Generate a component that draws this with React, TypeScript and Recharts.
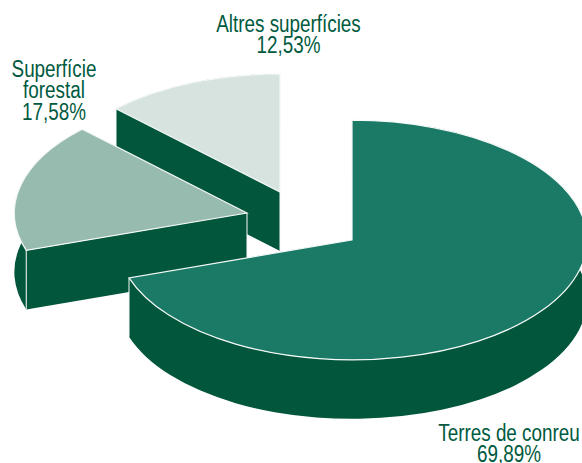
import { Pie, PieChart } from "recharts";

const names = ["Altres superfícies", "Superfície forestal", "Terres de conreu"];
const shares = [12.53, 17.58, 69.89];
const labelLines = [
  ["Altres superfícies", "12,53%"],
  ["Superfície", "forestal", "17,58%"],
  ["Terres de conreu", "69,89%"],
];

const rows = names.map((name, i) => ({ name, value: shares[i] }));

// per slice drawing settings, same order as the data
const sliceOffsets = [
  { dx: -72, dy: -48, scale: 0.985 },
  { dx: -105, dy: -27, scale: 0.99 },
  { dx: 0, dy: 0, scale: 1 },
];
const topColors = ["#d7e3df", "#97bbae", "#1a7a66"];
const labelSpots = [
  { x: 288.5, y: 32 },
  { x: 54, y: 77 },
  { x: 509, y: 441 },
];

const SQUASH = 0.51;
const DEPTH = 59;
const SIDE = "#02563b";
const EDGE = "#f6f9f8";
const FONT = "'Liberation Sans', Arial, sans-serif";

function Slice3D(props: any) {
  const { cx, cy, outerRadius, startAngle, endAngle, index } = props;
  const { dx, dy, scale } = sliceOffsets[index];
  const ox = cx + dx;
  const oy = cy + dy;
  const rx = outerRadius * scale;
  const ry = rx * SQUASH;
  const at = (deg: number) => {
    const t = (deg * Math.PI) / 180;
    return { x: ox + rx * Math.cos(t), y: oy - ry * Math.sin(t) };
  };
  const a = at(startAngle);
  const b = at(endAngle);
  const large = Math.abs(endAngle - startAngle) > 180 ? 1 : 0;

  // angle goes counter clockwise on screen
  const top = `M${ox},${oy} L${a.x},${a.y} A${rx},${ry} 0 ${large} 0 ${b.x},${b.y} Z`;
  const wall = `M${a.x},${a.y} A${rx},${ry} 0 ${large} 0 ${b.x},${b.y} L${b.x},${b.y + DEPTH} A${rx},${ry} 0 ${large} 1 ${a.x},${a.y + DEPTH} Z`;
  const face = (p: { x: number; y: number }) =>
    `M${ox},${oy} L${p.x},${p.y} L${p.x},${p.y + DEPTH} L${ox},${oy + DEPTH} Z`;
  const drop = (x: number, y: number) => (
    <line x1={x} y1={y} x2={x} y2={y + DEPTH} stroke={EDGE} strokeWidth={1} />
  );

  return (
    <g>
      <path d={wall} fill={SIDE} />
      <path d={face(a)} fill={SIDE} />
      <path d={face(b)} fill={SIDE} />
      {drop(a.x, a.y)}
      {drop(b.x, b.y)}
      {drop(ox, oy)}
      <path d={top} fill={topColors[index]} stroke={EDGE} strokeWidth={1.2} />
    </g>
  );
}

function SliceLabel(props: any) {
  const { index } = props;
  const spot = labelSpots[index];
  return (
    <text
      transform={`translate(${spot.x},${spot.y}) scale(0.82,1)`}
      textAnchor="middle"
      fontFamily={FONT}
      fontSize={23}
      fill="#005a40"
    >
      {labelLines[index].map((line, i) => (
        <tspan key={line} x={0} dy={i === 0 ? 0 : 21.5}>
          {line}
        </tspan>
      ))}
    </text>
  );
}

export default function App() {
  return (
    <div style={{ width: 582, height: 463, background: "#fff" }}>
      <style>{"html,body{margin:0;padding:0;background:#fff}"}</style>
      <PieChart width={582} height={463} margin={{ top: 0, right: 0, bottom: 0, left: 0 }}>
        <Pie
          data={rows}
          dataKey="value"
          nameKey="name"
          cx={352}
          cy={240}
          innerRadius={0}
          outerRadius={235}
          startAngle={90}
          endAngle={450}
          paddingAngle={0}
          stroke="none"
          shape={Slice3D}
          label={SliceLabel}
          labelLine={false}
          isAnimationActive={false}
        />
      </PieChart>
    </div>
  );
}
